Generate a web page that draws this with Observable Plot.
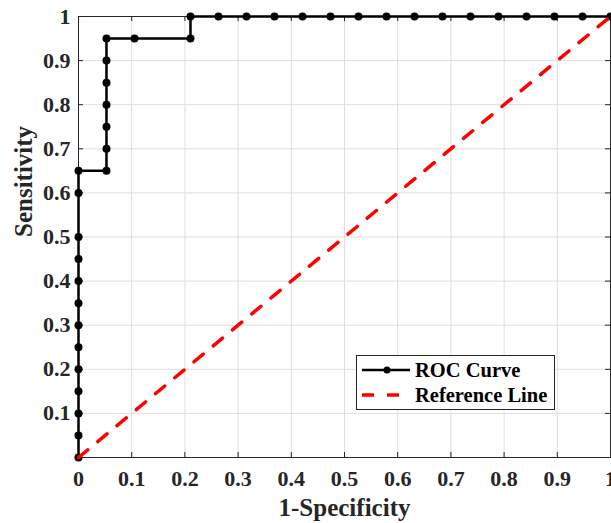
<!DOCTYPE html>
<html><head><meta charset="utf-8">
<script src="https://cdn.jsdelivr.net/npm/d3@7"></script>
<script src="https://cdn.jsdelivr.net/npm/@observablehq/plot@0.6"></script>
<style>body{margin:0;background:#fff}</style>
</head><body><div id="chart"></div>
<script>
// ROC curve points (1-Specificity, Sensitivity)
const rocX = [0,0,0,0,0,0,0,0,0,0,0,0,0,
  0.0526,0.0526,0.0526,0.0526,0.0526,0.0526,0.0526,
  0.1053,0.2105,0.2105,
  0.2632,0.3158,0.3684,0.4211,0.4737,0.5263,0.5789,0.6316,0.6842,0.7368,0.7895,0.8421,0.8947,0.9474,1];
const rocY = [0,0.05,0.1,0.15,0.2,0.25,0.3,0.35,0.4,0.45,0.5,0.6,0.65,
  0.65,0.7,0.75,0.8,0.85,0.9,0.95,
  0.95,0.95,1,
  1,1,1,1,1,1,1,1,1,1,1,1,1,1,1];
const refX = [0, 1];
const refY = [0, 1];
const xTicks = [0,0.1,0.2,0.3,0.4,0.5,0.6,0.7,0.8,0.9,1];
const yTicks = [0.1,0.2,0.3,0.4,0.5,0.6,0.7,0.8,0.9,1];
const xTitle = "1-Specificity";
const yTitle = "Sensitivity";
const legendLabels = ["ROC Curve", "Reference Line"];

const W = 611, H = 523, mL = 78, mR = 1, mT = 16, mB = 66;
const pW = W - mL - mR, pH = H - mT - mB;
const roc = rocX.map((x, i) => ({x, y: rocY[i]}));
const ref = refX.map((x, i) => ({x, y: refY[i]}));
const axisColor = "#262626";
const font = "'Liberation Serif', 'Times New Roman', serif";

const chart = Plot.plot({
  width: W, height: H,
  marginLeft: mL, marginRight: mR, marginTop: mT, marginBottom: mB,
  x: {domain: [0, 1], label: null},
  y: {domain: [0, 1], label: null},
  style: {fontFamily: font, fontWeight: "bold", background: "#fff", overflow: "visible"},
  marks: [
    Plot.gridX(xTicks, {stroke: "#dedede", strokeOpacity: 1}),
    Plot.gridY(yTicks, {stroke: "#dedede", strokeOpacity: 1}),
    Plot.ruleX(xTicks, {x: d => d, insetTop: pH - 5, stroke: axisColor}),
    Plot.ruleX(xTicks, {x: d => d, insetBottom: pH - 5, stroke: axisColor}),
    Plot.ruleY(yTicks, {y: d => d, insetRight: pW - 5, stroke: axisColor}),
    Plot.ruleY(yTicks, {y: d => d, insetLeft: pW - 5, stroke: axisColor}),
    Plot.frame({stroke: axisColor}),
    Plot.axisX(xTicks, {tickSize: 0, tickPadding: 13, fontSize: 22, fill: axisColor, label: null, tickFormat: d => String(d)}),
    Plot.axisY(yTicks, {tickSize: 0, tickPadding: 8, fontSize: 22, fill: axisColor, label: null, tickFormat: d => String(d)}),
    Plot.line(roc, {x: "x", y: "y", stroke: "#000", strokeWidth: 2.5}),
    Plot.dot(roc, {x: "x", y: "y", r: 4, fill: "#000"}),
    Plot.line(ref, {x: "x", y: "y", stroke: "#ff0000", strokeWidth: 3.5, strokeDasharray: "12 13"}),
    Plot.text([xTitle], {text: d => d, frameAnchor: "bottom", dy: 50, lineAnchor: "middle", fontSize: 25, fill: axisColor}),
    Plot.text([yTitle], {text: d => d, frameAnchor: "left", dx: -55, rotate: -90, lineAnchor: "middle", fontSize: 25, fill: axisColor})
  ]
});

// Legend
const svg = d3.select(chart);
const g = svg.append("g").attr("font-family", font).attr("font-weight", "bold");
g.append("rect").attr("x", 356.5).attr("y", 355.5).attr("width", 198).attr("height", 54)
  .attr("fill", "#fff").attr("stroke", axisColor);
g.append("line").attr("x1", 362).attr("x2", 410).attr("y1", 370).attr("y2", 370)
  .attr("stroke", "#000").attr("stroke-width", 2.5);
g.append("circle").attr("cx", 387).attr("cy", 370).attr("r", 3.5).attr("fill", "#000");
g.append("line").attr("x1", 362).attr("x2", 410).attr("y1", 395).attr("y2", 395)
  .attr("stroke", "#ff0000").attr("stroke-width", 3.5).attr("stroke-dasharray", "12 13");
legendLabels.forEach((t, i) => {
  g.append("text").attr("x", 415).attr("y", 370 + i * 25).attr("dy", "0.35em")
    .attr("text-anchor", "start").attr("font-size", 20.5).attr("fill", "#000").text(t);
});
document.getElementById("chart").appendChild(chart);
</script>
</body></html>
